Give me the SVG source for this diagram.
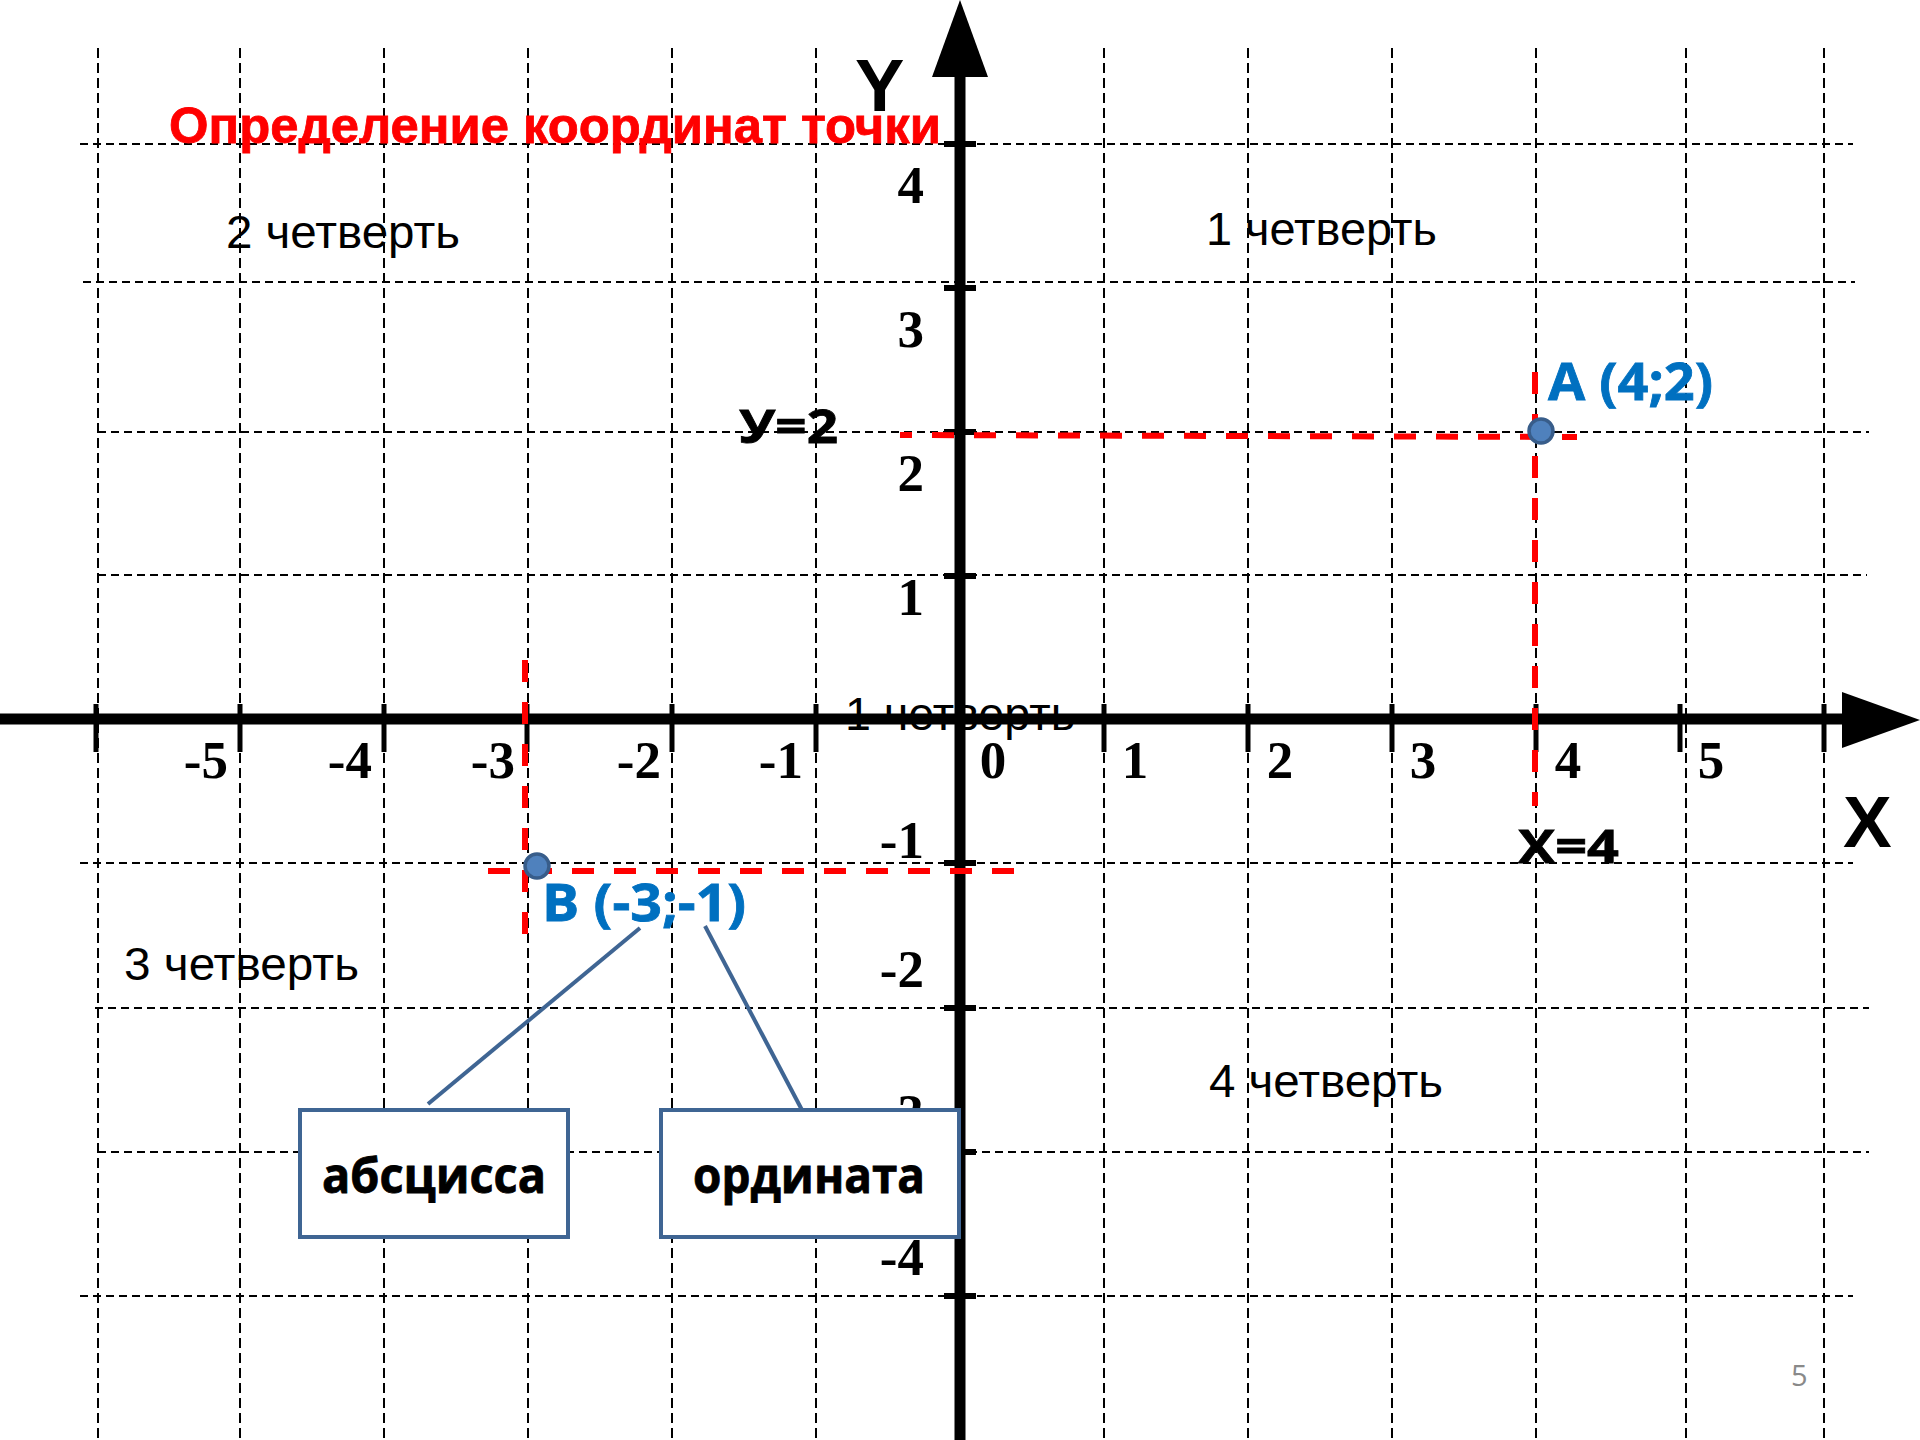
<svg xmlns="http://www.w3.org/2000/svg" width="1920" height="1440" viewBox="0 0 1920 1440">
<style>
.gh{stroke:#000;stroke-width:2;stroke-dasharray:8,5;fill:none}
.gv{stroke:#000;stroke-width:2;stroke-dasharray:10,5;fill:none}
.axis{stroke:#000;stroke-width:11;fill:none}
.xt{stroke:#000;stroke-width:5}
.yt{stroke:#000;stroke-width:6}
.red{stroke:#FF0000;stroke-width:6;stroke-dasharray:22,20;fill:none}
.num{font-family:"Liberation Serif","Times New Roman",serif;font-weight:bold;font-size:53px;fill:#000}
.quad{font-family:"Liberation Sans",Arial,sans-serif;font-size:46px;fill:#000}
.lbl{font-family:"Open Sans","Noto Sans",sans-serif;font-weight:bold;fill:#000;stroke:#000;stroke-width:0.8}
.blue{font-family:"Open Sans","Noto Sans",sans-serif;font-weight:bold;font-size:52px;fill:#0070C0;stroke:#0070C0;stroke-width:0.8}
.pt{fill:#4F81BD;stroke:#385D8A;stroke-width:3.5}
.box{fill:#fff;stroke:#3F6593;stroke-width:4}
.conn{stroke:#3F6593;stroke-width:4;fill:none}
</style>
<rect width="1920" height="1440" fill="#fff"/>
<g id="grid">
<line class="gh" x1="80" y1="144" x2="1853" y2="144"/>
<line class="gh" x1="83" y1="282" x2="1855" y2="282"/>
<line class="gh" x1="98" y1="432" x2="1869" y2="432"/>
<line class="gh" x1="98" y1="575" x2="1867" y2="575"/>
<line class="gh" x1="80" y1="863" x2="1853" y2="863"/>
<line class="gh" x1="95" y1="1008" x2="1869" y2="1008"/>
<line class="gh" x1="98" y1="1152" x2="1869" y2="1152"/>
<line class="gh" x1="80" y1="1296" x2="1853" y2="1296"/>
<line class="gv" x1="98" y1="48" x2="98" y2="1440"/>
<line class="gv" x1="240" y1="48" x2="240" y2="1440"/>
<line class="gv" x1="384" y1="48" x2="384" y2="1440"/>
<line class="gv" x1="528" y1="48" x2="528" y2="1440"/>
<line class="gv" x1="672" y1="48" x2="672" y2="1440"/>
<line class="gv" x1="816" y1="48" x2="816" y2="1440"/>
<line class="gv" x1="1104" y1="48" x2="1104" y2="1440"/>
<line class="gv" x1="1248" y1="48" x2="1248" y2="1440"/>
<line class="gv" x1="1392" y1="48" x2="1392" y2="1440"/>
<line class="gv" x1="1536" y1="48" x2="1536" y2="1440"/>
<line class="gv" x1="1686" y1="48" x2="1686" y2="1440"/>
<line class="gv" x1="1824" y1="48" x2="1824" y2="1440"/>
</g>
<text class="quad" x="845" y="730" textLength="230" lengthAdjust="spacingAndGlyphs" fill="#222">1 четверть</text>
<g id="axes">
<line class="axis" x1="0" y1="719" x2="1845" y2="719"/>
<polygon points="1842,692 1920,720 1842,748" fill="#000"/>
<line class="axis" x1="960" y1="74" x2="960" y2="1440"/>
<polygon points="932,77 960,0 988,77" fill="#000"/>
<line class="xt" x1="96" y1="704" x2="96" y2="752"/>
<line class="xt" x1="240" y1="704" x2="240" y2="752"/>
<line class="xt" x1="384" y1="704" x2="384" y2="752"/>
<line class="xt" x1="527" y1="704" x2="527" y2="752"/>
<line class="xt" x1="672" y1="704" x2="672" y2="752"/>
<line class="xt" x1="816" y1="704" x2="816" y2="752"/>
<line class="xt" x1="1104" y1="704" x2="1104" y2="752"/>
<line class="xt" x1="1248" y1="704" x2="1248" y2="752"/>
<line class="xt" x1="1392" y1="704" x2="1392" y2="752"/>
<line class="xt" x1="1536" y1="704" x2="1536" y2="752"/>
<line class="xt" x1="1680" y1="704" x2="1680" y2="752"/>
<line class="xt" x1="1824" y1="704" x2="1824" y2="752"/>
<line class="yt" x1="944" y1="144" x2="976" y2="144"/>
<line class="yt" x1="944" y1="288" x2="976" y2="288"/>
<line class="yt" x1="944" y1="432" x2="976" y2="432"/>
<line class="yt" x1="944" y1="576" x2="976" y2="576"/>
<line class="yt" x1="944" y1="863" x2="976" y2="863"/>
<line class="yt" x1="944" y1="1008" x2="976" y2="1008"/>
<line class="yt" x1="944" y1="1152" x2="976" y2="1152"/>
<line class="yt" x1="944" y1="1296" x2="976" y2="1296"/>
</g>
<g id="axis-labels">
<text class="num" x="228" y="778" text-anchor="end">-5</text>
<text class="num" x="372" y="778" text-anchor="end">-4</text>
<text class="num" x="515" y="778" text-anchor="end">-3</text>
<text class="num" x="661" y="778" text-anchor="end">-2</text>
<text class="num" x="803" y="778" text-anchor="end">-1</text>
<text class="num" x="993" y="778" text-anchor="middle">0</text>
<text class="num" x="1135" y="778" text-anchor="middle">1</text>
<text class="num" x="1280" y="778" text-anchor="middle">2</text>
<text class="num" x="1423" y="778" text-anchor="middle">3</text>
<text class="num" x="1568" y="778" text-anchor="middle">4</text>
<text class="num" x="1711" y="778" text-anchor="middle">5</text>
<text class="num" x="924" y="203" text-anchor="end">4</text>
<text class="num" x="924" y="347" text-anchor="end">3</text>
<text class="num" x="924" y="491" text-anchor="end">2</text>
<text class="num" x="924" y="615" text-anchor="end">1</text>
<text class="num" x="924" y="858" text-anchor="end">-1</text>
<text class="num" x="924" y="987" text-anchor="end">-2</text>
<text class="num" x="924" y="1131" text-anchor="end">-3</text>
<text class="num" x="924" y="1275" text-anchor="end">-4</text>
<text x="855" y="111" font-family="Liberation Sans,Arial,sans-serif" font-weight="bold" font-size="74">Y</text>
<text x="1843" y="847" font-family="Liberation Sans,Arial,sans-serif" font-weight="bold" font-size="73">X</text>
</g>
<text id="title" x="169" y="143" font-family="Liberation Sans,Arial,sans-serif" font-weight="bold" font-size="50" fill="#FF0000" stroke="#FF0000" stroke-width="0.8" textLength="772" lengthAdjust="spacingAndGlyphs">Определение координат точки</text>
<g id="quadrants">
<text class="quad" x="226" y="248" textLength="234" lengthAdjust="spacingAndGlyphs">2 четверть</text>
<text class="quad" x="1206" y="245" textLength="231" lengthAdjust="spacingAndGlyphs">1 четверть</text>
<text class="quad" x="124" y="980" textLength="235" lengthAdjust="spacingAndGlyphs">3 четверть</text>
<text class="quad" x="1209" y="1097" textLength="234" lengthAdjust="spacingAndGlyphs">4 четверть</text>
</g>
<g id="projections">
<line class="red" x1="900" y1="435" x2="1577" y2="437" stroke-dashoffset="10"/>
<line class="red" x1="1535" y1="372" x2="1535" y2="806"/>
<line class="red" x1="476" y1="871" x2="1033" y2="871" stroke-dashoffset="30"/>
<line class="red" x1="525" y1="660" x2="525" y2="936"/>
</g>
<text class="lbl" x="739" y="443" font-size="47" textLength="99" lengthAdjust="spacingAndGlyphs">У=2</text>
<text class="lbl" x="1518" y="863" font-size="47" textLength="101" lengthAdjust="spacingAndGlyphs">X=4</text>
<g id="point-A">
<circle class="pt" cx="1541" cy="431" r="12"/>
<text class="blue" x="1548" y="400" textLength="165" lengthAdjust="spacingAndGlyphs">A (4;2)</text>
</g>
<g id="point-B">
<circle class="pt" cx="537" cy="866" r="12"/>
<text class="blue" x="542" y="921" textLength="204" lengthAdjust="spacingAndGlyphs">B (-3;-1)</text>
</g>
<g id="connectors">
<line class="conn" x1="640" y1="928" x2="428" y2="1104"/>
<line class="conn" x1="705" y1="926" x2="802" y2="1110"/>
</g>
<g id="box-abscissa">
<rect class="box" x="300" y="1110" width="268" height="127"/>
<text class="lbl" x="322" y="1193" font-size="48" textLength="224" lengthAdjust="spacingAndGlyphs">абсцисса</text>
</g>
<g id="box-ordinate">
<rect class="box" x="661" y="1110" width="298" height="127"/>
<text class="lbl" x="693" y="1193" font-size="48" textLength="232" lengthAdjust="spacingAndGlyphs">ордината</text>
</g>
<text id="page" x="1791" y="1386" font-family="Open Sans,Noto Sans,sans-serif" font-size="29" fill="#898989">5</text>
</svg>
